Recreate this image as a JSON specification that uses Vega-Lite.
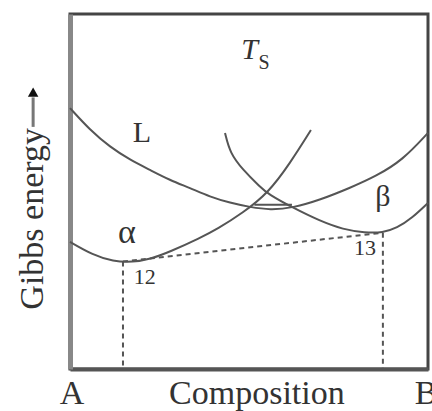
{
  "$schema": "https://vega.github.io/schema/vega-lite/v6.json",
  "autosize": {"type": "none"},
  "width": 358,
  "height": 355,
  "padding": {"left": 70, "top": 14, "right": 4, "bottom": 42},
  "background": "white",
  "config": {
    "view": {"stroke": "#444", "strokeWidth": 3}
  },
  "datasets": {
    "curves": [
      {"c": "L", "x": 0.0, "y": 73.5},
      {"c": "L", "x": 0.056, "y": 67.3},
      {"c": "L", "x": 0.112, "y": 62.5},
      {"c": "L", "x": 0.168, "y": 58.9},
      {"c": "L", "x": 0.223, "y": 56.1},
      {"c": "L", "x": 0.279, "y": 53.2},
      {"c": "L", "x": 0.335, "y": 51.0},
      {"c": "L", "x": 0.391, "y": 48.5},
      {"c": "L", "x": 0.447, "y": 46.8},
      {"c": "L", "x": 0.503, "y": 45.6},
      {"c": "L", "x": 0.559, "y": 44.8},
      {"c": "L", "x": 0.623, "y": 45.4},
      {"c": "L", "x": 0.698, "y": 47.6},
      {"c": "L", "x": 0.782, "y": 51.0},
      {"c": "L", "x": 0.855, "y": 54.3},
      {"c": "L", "x": 0.93, "y": 58.9},
      {"c": "L", "x": 1.0, "y": 66.5},
      {"c": "alpha", "x": 0.0, "y": 35.8},
      {"c": "alpha", "x": 0.064, "y": 32.1},
      {"c": "alpha", "x": 0.12, "y": 30.3},
      {"c": "alpha", "x": 0.176, "y": 30.1},
      {"c": "alpha", "x": 0.223, "y": 30.9},
      {"c": "alpha", "x": 0.279, "y": 33.0},
      {"c": "alpha", "x": 0.363, "y": 36.9},
      {"c": "alpha", "x": 0.411, "y": 39.4},
      {"c": "alpha", "x": 0.483, "y": 44.0},
      {"c": "alpha", "x": 0.553, "y": 49.5},
      {"c": "alpha", "x": 0.615, "y": 58.0},
      {"c": "alpha", "x": 0.673, "y": 67.3},
      {"c": "beta", "x": 0.433, "y": 66.5},
      {"c": "beta", "x": 0.447, "y": 60.8},
      {"c": "beta", "x": 0.483, "y": 56.1},
      {"c": "beta", "x": 0.531, "y": 51.3},
      {"c": "beta", "x": 0.553, "y": 49.3},
      {"c": "beta", "x": 0.623, "y": 45.4},
      {"c": "beta", "x": 0.698, "y": 41.7},
      {"c": "beta", "x": 0.763, "y": 39.3},
      {"c": "beta", "x": 0.824, "y": 38.4},
      {"c": "beta", "x": 0.874, "y": 38.4},
      {"c": "beta", "x": 0.913, "y": 39.7},
      {"c": "beta", "x": 0.955, "y": 42.5},
      {"c": "beta", "x": 1.0, "y": 46.8},
      {"c": "tri", "x": 0.515, "y": 46.3},
      {"c": "tri", "x": 0.62, "y": 46.3}
    ],
    "dashed": [
      {"c": "tangent", "o": 1, "x": 0.148, "y": 30.3},
      {"c": "tangent", "o": 2, "x": 0.874, "y": 38.4},
      {"c": "v12", "o": 1, "x": 0.148, "y": 30.3},
      {"c": "v12", "o": 2, "x": 0.148, "y": 0},
      {"c": "v13", "o": 1, "x": 0.874, "y": 38.4},
      {"c": "v13", "o": 2, "x": 0.874, "y": 0}
    ]
  },
  "layer": [
    {
      "data": {"name": "curves"},
      "mark": {"type": "line", "color": "#555", "strokeWidth": 2, "interpolate": "basis"},
      "encoding": {
        "x": {"field": "x", "type": "quantitative", "scale": {"domain": [0, 1], "nice": false, "zero": false},
              "axis": {"domain": true, "domainColor": "#555", "domainWidth": 4, "ticks": false, "labels": false, "grid": false, "title": null}},
        "y": {"field": "y", "type": "quantitative", "scale": {"domain": [0, 100], "nice": false, "zero": false},
              "axis": {"domain": true, "domainColor": "#888", "domainWidth": 5, "ticks": false, "labels": false, "grid": false, "title": null}},
        "detail": {"field": "c"}
      }
    },
    {
      "data": {"name": "dashed"},
      "mark": {"type": "line", "color": "#555", "strokeWidth": 2, "strokeDash": [5, 4]},
      "encoding": {
        "x": {"field": "x", "type": "quantitative"},
        "y": {"field": "y", "type": "quantitative"},
        "detail": {"field": "c"},
        "order": {"field": "o"}
      }
    },
    {
      "data": {"values": [
        {"t": "L", "x": 0.201, "y": 66.5},
        {"t": "β", "x": 0.874, "y": 48.5}
      ]},
      "mark": {"type": "text", "font": "Times New Roman, Liberation Serif, DejaVu Serif, serif", "color": "#333", "fontSize": 30, "baseline": "middle", "align": "center"},
      "encoding": {
        "x": {"field": "x", "type": "quantitative"},
        "y": {"field": "y", "type": "quantitative"},
        "text": {"field": "t"}
      }
    },
    {
      "data": {"values": [
        {"t": "α", "x": 0.159, "y": 38.3}
      ]},
      "mark": {"type": "text", "font": "Times New Roman, Liberation Serif, DejaVu Serif, serif", "color": "#333", "fontSize": 34, "baseline": "middle", "align": "center"},
      "encoding": {
        "x": {"field": "x", "type": "quantitative"},
        "y": {"field": "y", "type": "quantitative"},
        "text": {"field": "t"}
      }
    },
    {
      "data": {"values": [
        {"t": "T", "x": 0.502, "y": 90.0}
      ]},
      "mark": {"type": "text", "font": "Times New Roman, Liberation Serif, DejaVu Serif, serif", "color": "#333", "fontSize": 30, "baseline": "middle", "align": "center", "fontStyle": "italic"},
      "encoding": {
        "x": {"field": "x", "type": "quantitative"},
        "y": {"field": "y", "type": "quantitative"},
        "text": {"field": "t"}
      }
    },
    {
      "data": {"values": [
        {"t": "S", "x": 0.542, "y": 86.2}
      ]},
      "mark": {"type": "text", "font": "Times New Roman, Liberation Serif, DejaVu Serif, serif", "color": "#333", "fontSize": 20, "baseline": "middle", "align": "center"},
      "encoding": {
        "x": {"field": "x", "type": "quantitative"},
        "y": {"field": "y", "type": "quantitative"},
        "text": {"field": "t"}
      }
    },
    {
      "data": {"values": [
        {"t": "12", "x": 0.209, "y": 25.9},
        {"t": "13", "x": 0.824, "y": 34.1}
      ]},
      "mark": {"type": "text", "font": "Times New Roman, Liberation Serif, DejaVu Serif, serif", "color": "#333", "fontSize": 22, "baseline": "middle", "align": "center"},
      "encoding": {
        "x": {"field": "x", "type": "quantitative"},
        "y": {"field": "y", "type": "quantitative"},
        "text": {"field": "t"}
      }
    },
    {
      "data": {"values": [
        {"t": "A", "x": 0.006, "y": -7.0},
        {"t": "Composition", "x": 0.522, "y": -7.0},
        {"t": "B", "x": 0.995, "y": -7.0}
      ]},
      "mark": {"type": "text", "font": "Times New Roman, Liberation Serif, DejaVu Serif, serif", "color": "#333", "fontSize": 34, "baseline": "middle", "align": "center"},
      "encoding": {
        "x": {"field": "x", "type": "quantitative"},
        "y": {"field": "y", "type": "quantitative"},
        "text": {"field": "t"}
      }
    },
    {
      "data": {"values": [
        {"t": "Gibbs energy", "x": -0.103, "y": 42.3}
      ]},
      "mark": {"type": "text", "font": "Times New Roman, Liberation Serif, DejaVu Serif, serif", "color": "#333", "fontSize": 34, "baseline": "middle", "align": "center", "angle": 270},
      "encoding": {
        "x": {"field": "x", "type": "quantitative"},
        "y": {"field": "y", "type": "quantitative"},
        "text": {"field": "t"}
      }
    },
    {
      "data": {"values": [
        {"x": -0.103, "y": 68.2, "y2": 76.5}
      ]},
      "mark": {"type": "rule", "color": "#777", "strokeWidth": 3},
      "encoding": {
        "x": {"field": "x", "type": "quantitative"},
        "y": {"field": "y", "type": "quantitative"},
        "y2": {"field": "y2"}
      }
    },
    {
      "data": {"values": [
        {"x": -0.103, "y": 78.0}
      ]},
      "mark": {"type": "point", "shape": "triangle-up", "filled": true, "color": "#111", "size": 110, "opacity": 1},
      "encoding": {
        "x": {"field": "x", "type": "quantitative"},
        "y": {"field": "y", "type": "quantitative"}
      }
    }
  ]
}
